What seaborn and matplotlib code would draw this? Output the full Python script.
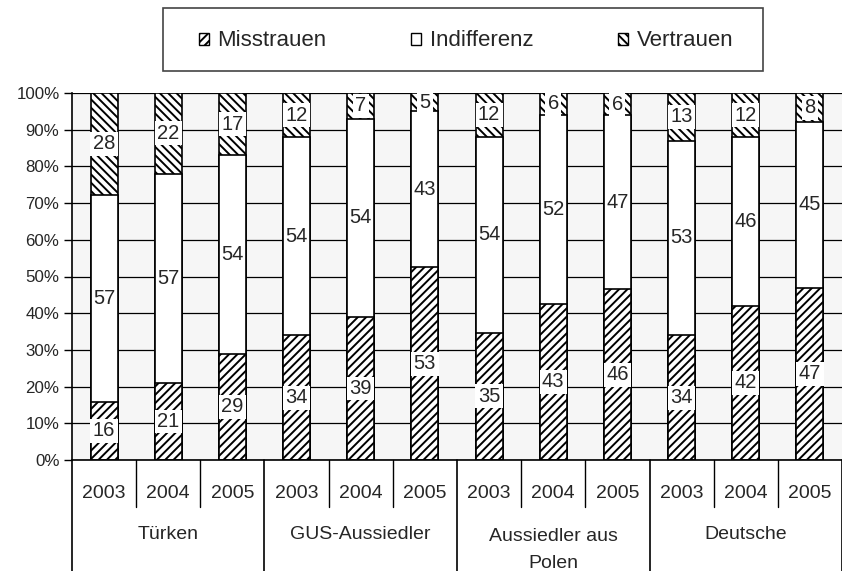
import numpy as np
import pandas as pd
import matplotlib
matplotlib.use("Agg")
import matplotlib.pyplot as plt
from matplotlib.patches import Patch, Rectangle
import seaborn as sns

# data (labels in %, Excel normalises each bar to 100%)
groups = ["Türken", "GUS-Aussiedler", "Aussiedler aus\nPolen", "Deutsche"]
years = ["2003", "2004", "2005"]
misstrauen = [16, 21, 29, 34, 39, 53, 35, 43, 46, 34, 42, 47]
indifferenz = [57, 57, 54, 54, 54, 43, 54, 52, 47, 53, 46, 45]
vertrauen = [28, 22, 17, 12, 7, 5, 12, 6, 6, 13, 12, 8]

sns.set_style("white")
plt.rcParams['font.family'] = ['Liberation Sans', 'DejaVu Sans']
plt.rcParams['hatch.linewidth'] = 1.4

kat = [g + " " + y for g in groups for y in years]
m = np.array(misstrauen, dtype=float)
i_ = np.array(indifferenz, dtype=float)
v = np.array(vertrauen, dtype=float)
total = m + i_ + v
df = pd.DataFrame({
    "kat": kat,
    "m": m / total * 100,
    "mi": (m + i_) / total * 100,
    "all": 100.0,
})

fig = plt.figure(figsize=(8.42, 5.71), dpi=100)
ax = fig.add_axes([72 / 842, 1 - 460 / 571, 770 / 842, 367 / 571])
ax.set_facecolor("#f6f6f6")

bw = 0.42
# stacked bars drawn top layer first, lower layers on top of it
sns.barplot(data=df, x="kat", y="all", order=kat, color="white", saturation=1,
            edgecolor="black", linewidth=1.2, hatch="\\\\\\\\", width=bw, errorbar=None, ax=ax)
sns.barplot(data=df, x="kat", y="mi", order=kat, color="white", saturation=1,
            edgecolor="black", linewidth=1.2, width=bw, errorbar=None, ax=ax)
sns.barplot(data=df, x="kat", y="m", order=kat, color="white", saturation=1,
            edgecolor="black", linewidth=1.2, hatch="////", width=bw, errorbar=None, ax=ax)

# value labels
box = dict(boxstyle="square,pad=0.12", fc="white", ec="none")
for k in range(len(kat)):
    ax.text(k, df["m"][k] / 2, str(misstrauen[k]), ha="center", va="center", fontsize=14.5, bbox=box)
    ax.text(k, (df["m"][k] + df["mi"][k]) / 2, str(indifferenz[k]), ha="center", va="center", fontsize=14.5)
    ax.text(k, (df["mi"][k] + 100) / 2, str(vertrauen[k]), ha="center", va="center", fontsize=14.5, bbox=box)

ax.set_ylim(0, 100)
ax.set_xlim(-0.5, len(kat) - 0.5)
ax.set_yticks(range(0, 101, 10))
ax.set_yticklabels([f"{t}%" for t in range(0, 101, 10)], fontsize=12.2)
ax.yaxis.grid(True, color="black", linewidth=0.9)
ax.set_axisbelow(True)
ax.tick_params(axis="y", direction="out", length=6, width=1, color="black", pad=3, left=True)
ax.tick_params(axis="x", length=0)
ax.set_xticklabels([])
ax.set_xlabel("")
ax.set_ylabel("")
for s in ["top", "right"]:
    ax.spines[s].set_visible(False)
for s in ["left", "bottom"]:
    ax.spines[s].set_color("black")
    ax.spines[s].set_linewidth(1.2)

# two-level category axis
tr = ax.get_xaxis_transform()
for k in range(len(kat)):
    ax.text(k, -0.09, years[k % 3], transform=tr, ha="center", va="center", fontsize=14)
    if k % 3 != 2:
        ax.plot([k + 0.5, k + 0.5], [0, -0.128], transform=tr, color="black", lw=1, clip_on=False)
for g in range(len(groups)):
    yy = -0.246 if "\n" in groups[g] else -0.204
    ax.text(g * 3 + 1, yy, groups[g], transform=tr, ha="center", va="center",
            fontsize=14, linespacing=1.75)
for g in range(len(groups) + 1):
    ax.plot([g * 3 - 0.5, g * 3 - 0.5], [0, -0.31], transform=tr, color="black", lw=1.2, clip_on=False)

# legend with its own box
fig.patches.append(Rectangle((163 / 842, 1 - 71 / 571), 600 / 842, 63 / 571,
                             transform=fig.transFigure, fill=False, edgecolor="#444444", linewidth=1.2))
handles = [Patch(facecolor="white", edgecolor="black", hatch="////", label="Misstrauen"),
           Patch(facecolor="white", edgecolor="black", label="Indifferenz"),
           Patch(facecolor="white", edgecolor="black", hatch="\\\\\\\\", label="Vertrauen")]
fig.legend(handles=handles, loc="center", bbox_to_anchor=(466 / 842, 1 - 41 / 571), ncol=3,
           frameon=False, fontsize=16, handlelength=0.45, handleheight=0.45,
           handletextpad=0.4, columnspacing=3.8)

plt.savefig("out.png", dpi=100)
